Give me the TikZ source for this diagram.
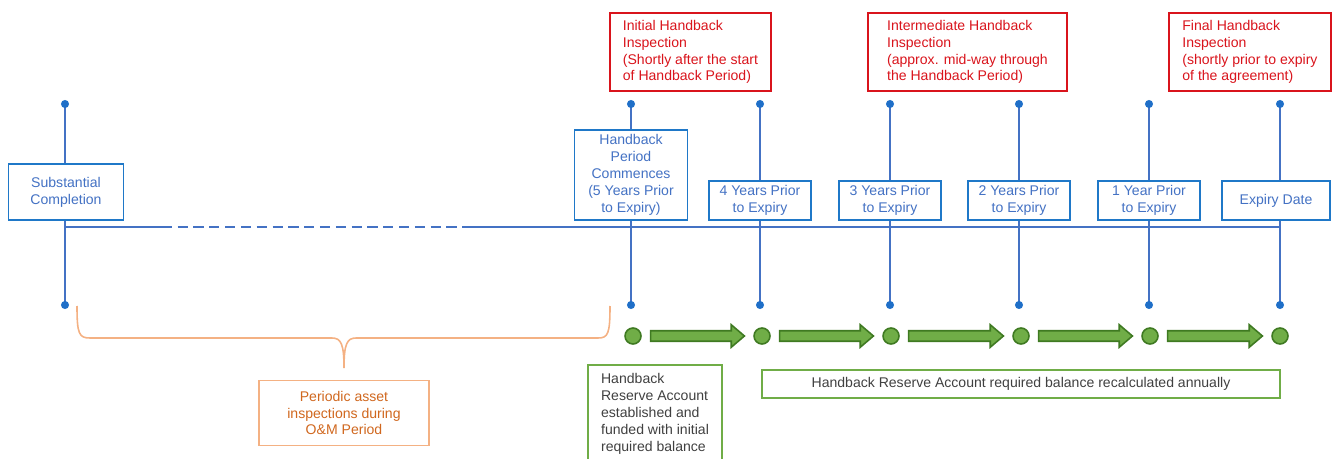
\documentclass[tikz,border=0pt]{standalone}
\usepackage{fontspec}
\setmainfont{Liberation Sans}
\usetikzlibrary{calc}

\definecolor{lineblue}{HTML}{4472C4}
\definecolor{dotblue}{HTML}{1F6FC8}
\definecolor{boxblue}{HTML}{1F78C8}
\definecolor{inspred}{HTML}{D9141C}
\definecolor{accgreen}{HTML}{70AD47}
\definecolor{accdark}{HTML}{3F7A22}
\definecolor{omorange}{HTML}{F4B183}
\definecolor{omtext}{HTML}{D0671E}
\definecolor{acctext}{HTML}{404040}

\tikzset{
  txt/.style={font=\fontsize{8}{9.6}\selectfont},
  blubox/.style={txt, draw=boxblue, line width=1.1pt, fill=white, text=lineblue, align=center, inner sep=2pt, anchor=south},
  yearbox/.style={blubox, minimum width=2.04cm, minimum height=0.78cm},
  redbox/.style={txt, draw=inspred, line width=1.1pt, text=inspred, align=left, anchor=north west, minimum height=1.56cm, inner ysep=0pt},
  greenbox/.style={txt, draw=accgreen, line width=1pt, text=acctext},
  ombox/.style={txt, draw=omorange, line width=0.8pt, text=omtext, align=center},
  tick/.style={lineblue, line width=1.1pt},
  holder/.style={circle, draw=accdark, fill=accgreen, line width=0.9pt, minimum size=0.32cm, inner sep=0pt},
  grarrow/.style={draw=accdark, fill=accgreen, line width=0.9pt, line join=miter}
}

% block arrow between two holder circles
\newcommand{\holdarrow}[2]{%
  \draw[grarrow] let \p1=(#1.east), \p2=(#2.west) in
    (\x1+5pt,\y1+3pt) -- (\x2-12.5pt,\y1+3pt) -- (\x2-12.5pt,\y1+6.4pt)
    -- (\x2-5pt,\y1) -- (\x2-12.5pt,\y1-6.4pt) -- (\x2-12.5pt,\y1-3pt)
    -- (\x1+5pt,\y1-3pt) -- cycle;}

\begin{document}
\begin{tikzpicture}[x=0.02cm, y=-0.02cm]

\useasboundingbox (0,0) rectangle (1332,459);

% Milestone stems with end dots
\foreach \n/\x in {sc/65, hp/631, y4/760, y3/890, y2/1019, y1/1149, ex/1280} {
  \coordinate (top\n) at (\x,104);
  \coordinate (bot\n) at (\x,305);
  \draw[tick] (top\n) -- (bot\n);
  \fill[dotblue] (top\n) circle (2.3pt);
  \fill[dotblue] (bot\n) circle (2.3pt);
}

% Timeline, broken during the O&M period
\coordinate (tlstart) at (65,227);
\coordinate (gapa) at (172,227);
\coordinate (gapb) at (462,227);
\coordinate (tlend) at (1280,227);
\draw[tick, line width=1pt] (tlstart) -- (gapa);
\draw[tick, line width=1pt, dash pattern=on 5.8pt off 3.2pt, dash phase=-3.2pt] (gapa) -- (gapb);
\draw[tick, line width=1pt] (gapb) -- (tlend);

% Milestone boxes
\node[blubox, minimum width=2.3cm, minimum height=1.12cm] (subst) at (66,221) {Substantial\\Completion};
\node[blubox, minimum width=2.26cm, minimum height=1.8cm] (hpstart) at (631,221) {Handback\\Period\\Commences\\(5 Years Prior\\to Expiry)};
\node[yearbox] (prior4) at (760,221) {4 Years Prior\\to Expiry};
\node[yearbox] (prior3) at (890,221) {3 Years Prior\\to Expiry};
\node[yearbox] (prior2) at (1019,221) {2 Years Prior\\to Expiry};
\node[yearbox] (prior1) at (1149,221) {1 Year Prior\\to Expiry};
\node[yearbox, minimum width=2.16cm] (expiry) at (1276,221) {Expiry Date};

% Inspections
\node[redbox, minimum width=3.22cm] (insp1) at (609,12) {Initial Handback\\Inspection\\(Shortly after the start\\of Handback Period)};
\node[redbox, minimum width=3.98cm] (insp2) at (867,12) {Intermediate Handback\\Inspection\\(approx. mid-way through\\the Handback Period)};
\node[redbox, minimum width=3.24cm] (insp3) at (1168,12) {Final Handback\\Inspection\\(shortly prior to expiry\\of the agreement)};

% Reserve account
\node[holder] (g1) at (633,336) {};
\node[holder] (g2) at (762,336) {};
\node[holder] (g3) at (891,336) {};
\node[holder] (g4) at (1021,336) {};
\node[holder] (g5) at (1150,336) {};
\node[holder] (g6) at (1280,336) {};
\holdarrow{g1}{g2}
\holdarrow{g2}{g3}
\holdarrow{g3}{g4}
\holdarrow{g4}{g5}
\holdarrow{g5}{g6}

\node[greenbox, align=left, anchor=north, minimum width=2.68cm, minimum height=1.96cm] (hrafund) at (655,364) {Handback\\Reserve Account\\established and\\funded with initial\\required balance};
\node[greenbox, minimum width=10.36cm, minimum height=0.56cm] (hrarecalc) at (1021,384) {Handback Reserve Account required balance recalculated annually};

% O&M period brace
\draw[omorange, line width=0.9pt] (77,306) .. controls (77,334) and (79,338) .. (90,338)
  -- (332,338) .. controls (341,338) and (344,344) .. (344,368)
  .. controls (344,344) and (347,338) .. (356,338)
  -- (598,338) .. controls (608,338) and (610,334) .. (610,306);
\node[ombox, minimum width=3.4cm, minimum height=1.3cm] (omnote) at (344,413) {Periodic asset\\inspections during\\O\&M Period};

\end{tikzpicture}
\end{document}
